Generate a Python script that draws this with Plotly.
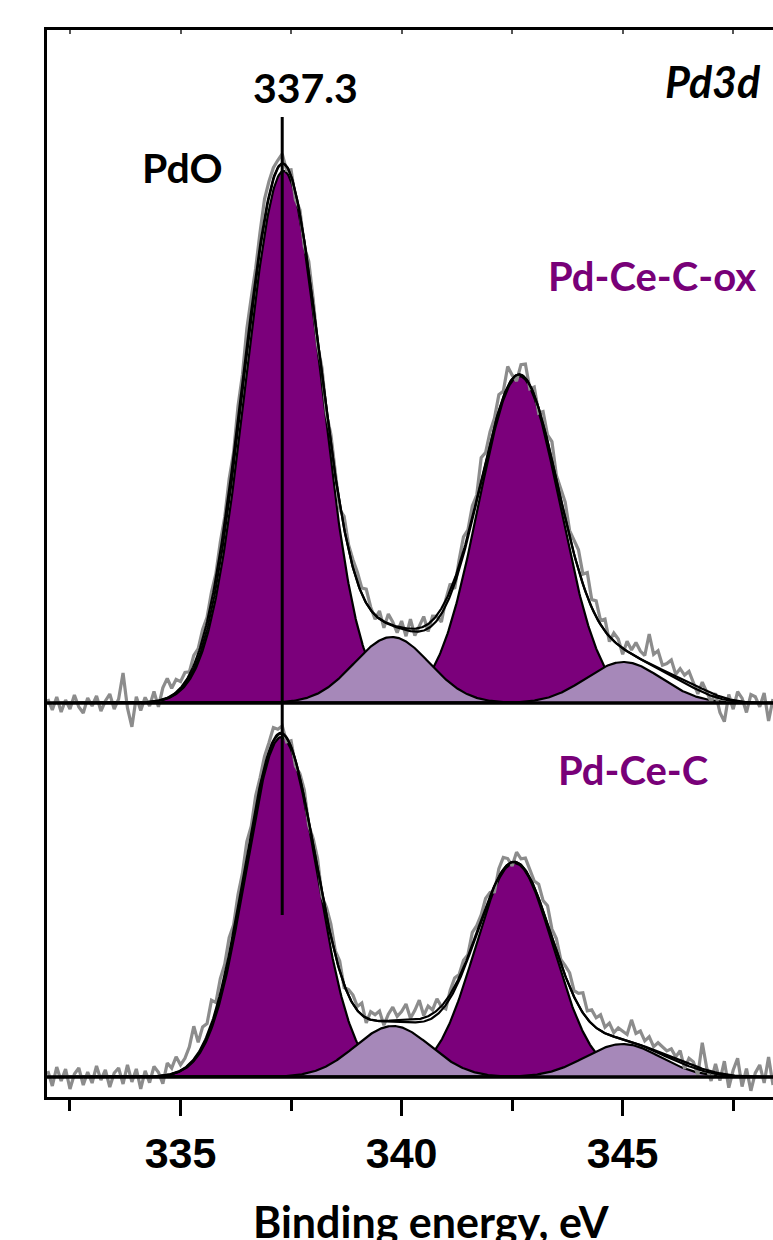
import numpy as np
import plotly.graph_objects as go

# ---------------- data ----------------
# measured energy grid (eV)
E_START, E_STEP, N_PTS = 332.0, 0.1, 165
X_MIN, X_MAX = 331.98, 348.40

# Pd-Ce-C-ox (upper spectrum) fitted components: centre (eV), height (a.u.), sigma (eV)
ox_offset = 374
ox_pdo_center = [337.33, 342.66]
ox_pdo_height = [532, 327]
ox_pdo_sigma = [0.85, 0.92]
ox_sat_center = [339.78, 345.02]
ox_sat_height = [66, 41]
ox_sat_sigma = [0.85, 0.85]
ox_envA_center = [336.45, 341.20, 346.30]
ox_envA_height = [18, 10, 9]
ox_envA_sigma = [0.60, 0.60, 0.60]
ox_envB_center = [336.30, 341.10, 346.40]
ox_envB_height = [28, 15, 12]
ox_envB_sigma = [0.60, 0.60, 0.60]
# raw-data deviation from the envelope (a.u.)
ox_resid = [4, -7, 6, -9, 3, -6, 8, -4, -10, 5,
            -3, 7, -8, 2, 9, -6, 4, 30, -5, -24,
            6, -8, 5, -4, 10, -6, 12, 20, 8, 14,
            8, 12, 6, 14, 10, 16, 12, 18, 14, 20,
            16, 22, 14, 24, 18, 26, 20, 14, 18, 22,
            16, 12, 8, 10, -4, 6, -8, 4, -6, 10,
            6, -5, 8, -3, 10, 4, -6, 12, 5, 8,
            10, 6, 14, 3, -4, 8, -6, 10, 4, -5,
            8, -6, 12, -4, 6, 14, -3, 9, 4, -8,
            6, 12, -5, 10, 18, 8, 14, 6, 24, 10,
            12, 8, 16, 6, 20, 4, -6, 10, 14, -4,
            8, -5, 12, 6, 18, 4, 10, 16, 6, 14,
            20, 10, 24, 8, 16, 4, 12, -5, 8, 6,
            -6, 10, 4, 14, 8, 6, 30, 12, 18, 6,
            10, 16, 4, 12, 8, 14, 6, -4, 10, 2,
            -6, 4, -14, -22, 6, -8, 10, 4, -10, 8,
            6, -4, 10, -18, 4]

# Pd-Ce-C (lower spectrum)
lo_offset = 0
lo_pdo_center = [337.28, 342.55]
lo_pdo_height = [340, 214]
lo_pdo_sigma = [0.80, 0.88]
lo_sat_center = [339.80, 345.00]
lo_sat_height = [51, 33]
lo_sat_sigma = [0.85, 0.85]
lo_envA_center = [336.50, 341.10, 346.30]
lo_envA_height = [6, 8, 4]
lo_envA_sigma = [0.60, 0.60, 0.60]
lo_envB_center = [336.40, 341.00, 346.40]
lo_envB_height = [10, 12, 6]
lo_envB_sigma = [0.60, 0.60, 0.60]
lo_resid = [6, -9, 10, -4, 8, -12, 3, 9, -8, 5,
            -6, 11, -3, 7, -10, 4, 9, -7, 12, -5,
            8, -12, 6, -6, 10, 4, -8, 12, 6, 16,
            6, 10, 18, 34, 12, 20, 14, 26, 10, 18,
            14, 20, 10, 16, 12, 18, 8, 14, 10, 12,
            10, 14, 6, 8, -4, 6, -6, 4, 8, -5,
            6, 10, -4, 8, 12, 4, 10, -3, 6, 9,
            4, 12, -5, 8, 6, 10, -4, 7, 14, 5,
            10, 18, 4, 12, 22, 6, 14, 8, 16, 4,
            -4, 8, 12, 6, 10, 4, 14, 8, 6, 10,
            4, -6, 8, 12, 6, -4, 10, 6, 12, 8,
            6, 14, 10, 18, 8, 12, 4, 10, 14, 6,
            12, 20, 8, 14, 10, 16, 6, 12, 4, 10,
            8, 6, 22, 10, 14, 6, 12, 4, 10, 8,
            6, 10, 4, 12, -4, 8, 6, -6, 28, 4,
            -8, 10, -6, 14, -12, 6, 18, -10, 8, -14,
            4, 12, -6, 20, -8]

guide_energy = 337.3
guide_y = [162, 960]

# ---------------- styles ----------------
DARK = "#7B007B"
LIGHT = "#A688B9"
GRAY = "#8C8C8C"
LABEL_FONT = "Lato"

x_fine = np.arange(X_MIN, X_MAX + 0.001, 0.02)
x_data = E_START + E_STEP * np.arange(N_PTS)


def gauss(x, c, h, s):
    return h * np.exp(-0.5 * ((x - c) / s) ** 2)


def comp_sum(x, centers, heights, sigmas):
    tot = np.zeros_like(x)
    for c, h, s in zip(centers, heights, sigmas):
        tot += gauss(x, c, h, s)
    return tot


fig = go.Figure()


def add_spectrum(offset, pdo, sat, envA, envB, resid):
    # filled components: PdO doublet first, satellites on top
    for (cs, hs, ss), col in ((pdo, DARK), (sat, LIGHT)):
        for c, h, s in zip(cs, hs, ss):
            y = offset + gauss(x_fine, c, h, s)
            fig.add_trace(go.Scatter(
                x=np.concatenate([x_fine, x_fine[::-1]]),
                y=np.concatenate([y, np.full_like(x_fine, offset)]),
                fill="toself", fillcolor=col, mode="lines",
                line=dict(color="black", width=2.2), hoverinfo="skip"))
    base_fine = comp_sum(x_fine, *pdo) + comp_sum(x_fine, *sat)
    base_data = comp_sum(x_data, *pdo) + comp_sum(x_data, *sat)
    env_data = base_data + comp_sum(x_data, *envA)
    raw = offset + env_data + np.array(resid)
    fig.add_trace(go.Scatter(x=x_data, y=raw, mode="lines",
                             line=dict(color=GRAY, width=3.2), hoverinfo="skip"))
    for env in (envA, envB):
        fig.add_trace(go.Scatter(x=x_fine, y=offset + base_fine + comp_sum(x_fine, *env),
                                 mode="lines", line=dict(color="black", width=2.2),
                                 hoverinfo="skip"))


add_spectrum(ox_offset,
             (ox_pdo_center, ox_pdo_height, ox_pdo_sigma),
             (ox_sat_center, ox_sat_height, ox_sat_sigma),
             (ox_envA_center, ox_envA_height, ox_envA_sigma),
             (ox_envB_center, ox_envB_height, ox_envB_sigma),
             ox_resid)
add_spectrum(lo_offset,
             (lo_pdo_center, lo_pdo_height, lo_pdo_sigma),
             (lo_sat_center, lo_sat_height, lo_sat_sigma),
             (lo_envA_center, lo_envA_height, lo_envA_sigma),
             (lo_envB_center, lo_envB_height, lo_envB_sigma),
             lo_resid)

# baselines
fig.add_trace(go.Scatter(x=[X_MIN, X_MAX], y=[ox_offset, ox_offset], mode="lines",
                         line=dict(color="black", width=3.5), xaxis="x2", hoverinfo="skip"))
fig.add_trace(go.Scatter(x=[X_MIN, X_MAX], y=[lo_offset, lo_offset], mode="lines",
                         line=dict(color="black", width=3.5), hoverinfo="skip"))
# guide line at 337.3 eV
fig.add_trace(go.Scatter(x=[guide_energy, guide_energy], y=guide_y, mode="lines",
                         line=dict(color="black", width=3), hoverinfo="skip"))

lab = dict(family=LABEL_FONT, size=41, color="black", weight="bold")
purple_lab = dict(family=LABEL_FONT, size=40, color="#780078", weight="bold")
annotations = [
    dict(x=337.82, y=990, text="337.3", font=lab),
    dict(x=335.05, y=910, text="PdO", font=lab),
    dict(x=348.18, y=996, text="<i>Pd3d</i>", xanchor="right",
         font=dict(family=LABEL_FONT, size=43, color="black", weight="bold")),
    dict(x=348.07, y=801, text="Pd-Ce-C-ox", xanchor="right", font=purple_lab),
    dict(x=346.97, y=307, text="Pd-Ce-C", xanchor="right", font=purple_lab),
]
for a in annotations:
    a.setdefault("xanchor", "center")
    a.update(xref="x", yref="y", showarrow=False, yanchor="middle")
annotations.append(dict(x=0.530, y=-0.1171, xref="paper", yref="paper",
                        text="Binding energy, eV",
                        font=dict(family=LABEL_FONT, size=43, color="black", weight="bold"),
                        showarrow=False, xanchor="center", yanchor="middle"))

fig.update_layout(
    width=773, height=1240,
    margin=dict(l=47, r=0, t=30, b=143),
    plot_bgcolor="white", paper_bgcolor="white",
    showlegend=False,
    annotations=annotations,
    xaxis=dict(range=[X_MIN, X_MAX], tick0=335, dtick=5, ticks="outside",
               ticklen=16, tickwidth=2.5, tickcolor="black",
               minor=dict(tick0=332.5, dtick=2.5, ticks="outside", ticklen=11,
                          tickwidth=2.5, tickcolor="black"),
               showline=True, linewidth=3, linecolor="black",
               showgrid=False, zeroline=False,
               tickfont=dict(family="Liberation Sans", size=43, color="black", weight="bold")),
    xaxis2=dict(range=[X_MIN, X_MAX], overlaying="x", side="top", anchor="y",
                tick0=332.5, dtick=2.5, ticks="inside", ticklen=4, tickwidth=1.5,
                tickcolor="#555555", showticklabels=False,
                showline=True, linewidth=3, linecolor="black",
                showgrid=False, zeroline=False),
    yaxis=dict(range=[-20, 1047], showticklabels=False, ticks="",
               showline=True, linewidth=3, linecolor="black",
               showgrid=False, zeroline=False),
)

fig.write_html("out.html", config={"displayModeBar": False},
               post_script="document.body.style.margin='0';document.body.style.overflow='hidden';")
